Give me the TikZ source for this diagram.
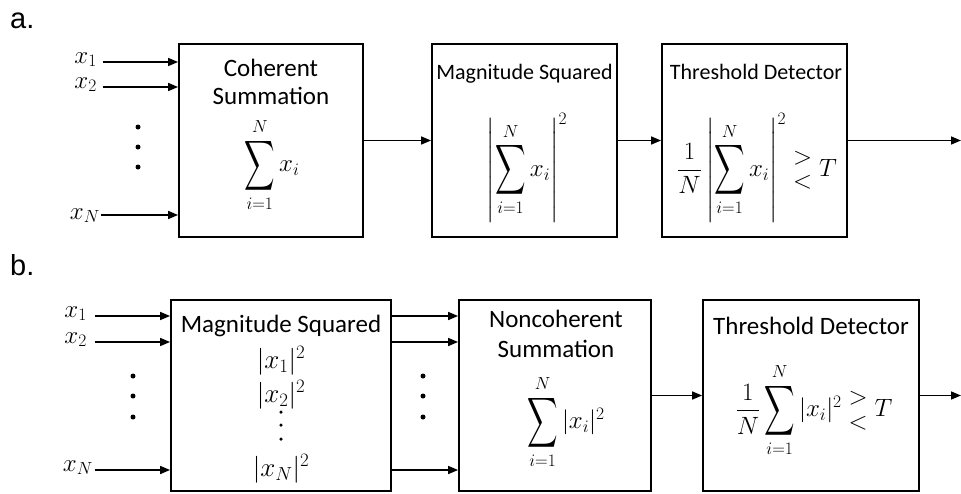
\RequirePackage{fix-cm}
\documentclass[tikz,border=0pt]{standalone}
\usepackage{amsmath}
\usepackage{fontspec}
\setmainfont{Carlito}
\newfontfamily\panelfont{Liberation Sans}
\usetikzlibrary{arrows.meta}
\newcommand\Bsum{\mathop{\vcenter{\hbox{\scalebox{0.85}[1.4]{$\displaystyle\sum$}}}}\limits}
\newcommand\gl{\mathrel{\vcenter{\offinterlineskip\hbox{$>$}\vskip11pt\hbox{$<$}}}}
\begin{document}
\begin{tikzpicture}[x=1pt,y=-1pt,
  box/.style={draw,line width=1.8pt,inner sep=0pt},
  arr/.style={line width=1.6pt,-{Triangle[length=10pt,width=8pt]}},
  ttl/.style={font=\fontsize{25}{30}\selectfont,inner sep=0pt,anchor=base},
  ttls/.style={ttl,font=\fontsize{22}{26}\selectfont},
  fml/.style={font=\fontsize{25}{30}\selectfont,inner sep=0pt},
  fmlb/.style={font=\fontsize{27}{32}\selectfont,inner sep=0pt},
  lab/.style={font=\fontsize{25}{30}\selectfont,inner sep=0pt,anchor=base east},
  pnl/.style={font=\panelfont\fontsize{29}{34}\selectfont,inner sep=0pt,anchor=base west},
  dot/.style={circle,fill,inner sep=0pt,minimum size=5pt},
  sdot/.style={circle,fill,inner sep=0pt,minimum size=3.5pt}]
\useasboundingbox (0,0) rectangle (961,493);

% panel labels
\node[pnl] (pa) at (10,28) {a.};
\node[pnl] (pb) at (10,275) {b.};

% ---------- panel a ----------
\node[box,minimum width=184pt,minimum height=193pt] (a1) at (271,140.5) {};
\node[box,minimum width=185pt,minimum height=193pt] (a2) at (524.5,140.5) {};
\node[box,minimum width=185pt,minimum height=193pt] (a3) at (754.5,140.5) {};

\node[ttl] (a1t1) at (271,76) {Coherent};
\node[ttl] (a1t2) at (271,104) {Summation};
\node[ttls] (a2t) at (524.5,79) {Magnitude Squared};
\node[ttls] (a3t) at (756,79) {Threshold Detector};

\node[fml] (a1f) at (272,165) {$\Bsum_{i=1}^{N} x_i$};
\node[fml] (a2f) at (527,168) {$\left|\Bsum_{i=1}^{N} x_i\right|^2$};
\node[fml] (a3f) at (757,168) {$\dfrac{1}{N}\left|\Bsum_{i=1}^{N} x_i\right|^2 \gl T$};

\node[lab] (ax1) at (97,63) {$x_1$};
\node[lab] (ax2) at (97,88) {$x_2$};
\node[lab] (axN) at (100,219) {$x_N$};
\coordinate (ax1s) at (103,62);
\coordinate (ax2s) at (103,87);
\coordinate (axNs) at (101,215);
\draw[arr] (ax1s) -- (ax1s -| a1.west);
\draw[arr] (ax2s) -- (ax2s -| a1.west);
\draw[arr] (axNs) -- (axNs -| a1.west);
\node[dot] (ad1) at (138,127) {};
\node[dot] (ad2) at (138,147) {};
\node[dot] (ad3) at (138,167) {};

\draw[arr] (a1.east) -- (a2.west);
\draw[arr] (a2.east) -- (a3.west);
\coordinate (aout) at (961,140.5);
\draw[arr] (a3.east) -- (aout);

% ---------- panel b ----------
\node[box,minimum width=220pt,minimum height=191pt] (b1) at (281,395.5) {};
\node[box,minimum width=192pt,minimum height=191pt] (b2) at (555,395.5) {};
\node[box,minimum width=216pt,minimum height=191pt] (b3) at (811,395.5) {};

\node[ttl] (b1t) at (281,332) {Magnitude Squared};
\node[ttl] (b2t1) at (556,327) {Noncoherent};
\node[ttl] (b2t2) at (556,357) {Summation};
\node[ttl] (b3t) at (811,334) {Threshold Detector};

\node[fmlb] (b1m1) at (281,361) {$|x_1|^2$};
\node[fmlb] (b1m2) at (281,395) {$|x_2|^2$};
\node[sdot] (bv1) at (281,412) {};
\node[sdot] (bv2) at (281,425) {};
\node[sdot] (bv3) at (281,439) {};
\node[fmlb] (b1mN) at (281,469) {$|x_N|^2$};

\node[fml] (b2f) at (566,422) {$\Bsum_{i=1}^{N} |x_i|^2$};
\node[fml] (b3f) at (814,410) {$\dfrac{1}{N}\Bsum_{i=1}^{N}|x_i|^2 \gl T$};

\node[lab] (bx1) at (87,317) {$x_1$};
\node[lab] (bx2) at (87,343) {$x_2$};
\node[lab] (bxN) at (93,471) {$x_N$};
\coordinate (bx1s) at (95,316);
\coordinate (bx2s) at (95,342);
\coordinate (bxNs) at (95,470);
\draw[arr] (bx1s) -- (bx1s -| b1.west);
\draw[arr] (bx2s) -- (bx2s -| b1.west);
\draw[arr] (bxNs) -- (bxNs -| b1.west);
\node[dot] (bd1) at (133,376) {};
\node[dot] (bd2) at (133,396) {};
\node[dot] (bd3) at (133,417) {};

\draw[arr] (bx1s -| b1.east) -- (bx1s -| b2.west);
\draw[arr] (bx2s -| b1.east) -- (bx2s -| b2.west);
\draw[arr] (bxNs -| b1.east) -- (bxNs -| b2.west);
\node[dot] (bd4) at (423,376) {};
\node[dot] (bd5) at (423,396) {};
\node[dot] (bd6) at (423,417) {};

\draw[arr] (b2.east) -- (b3.west);
\coordinate (bout) at (961,395.5);
\draw[arr] (b3.east) -- (bout);
\end{tikzpicture}
\end{document}
